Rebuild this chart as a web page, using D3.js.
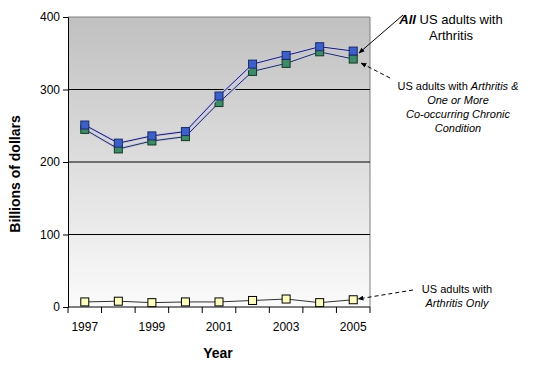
<!DOCTYPE html>
<html><head><meta charset="utf-8">
<script src="https://cdn.jsdelivr.net/npm/d3@7"></script>
<style>body{margin:0;background:#fff;font-family:Arial,"Liberation Sans",sans-serif;}</style>
</head><body><svg id="c" width="539" height="366"></svg>
<script>
const years = ["1997","1998","1999","2000","2001","2002","2003","2004","2005"];
const allArthritis = [251,226,236,242,291,335,347,359,353];
const coOccurring = [245,218,229,235,282,325,336,352,342];
const arthritisOnly = [7,8,6,7,7,9,11,6,10];
const yTicks = [0,100,200,300,400];
const xLabels = ["1997","1999","2001","2003","2005"];

const svg = d3.select("#c");
const L=68,R=370,T=17,B=307;
const x = d3.scaleBand().domain(years).range([L,R]);
const y = d3.scaleLinear().domain([0,400]).range([B,T]);

const defs = svg.append("defs");
const g = defs.append("linearGradient").attr("id","bg").attr("x1",0).attr("y1",0).attr("x2",0).attr("y2",1);
g.append("stop").attr("offset","0%").attr("stop-color","#c0c0c0");
g.append("stop").attr("offset","100%").attr("stop-color","#fbfbfb");
svg.append("rect").attr("x",L).attr("y",T).attr("width",R-L).attr("height",B-T).attr("fill","url(#bg)");
svg.append("path").attr("d",`M${L},${T}H${R}V${B}`).attr("fill","none").attr("stroke","#808080");

// gridlines
svg.selectAll(".grid").data(yTicks.filter(d=>d>0&&d<400)).enter().append("line")
 .attr("x1",L).attr("x2",R).attr("y1",d=>y(d)).attr("y2",d=>y(d)).attr("stroke","#000").attr("stroke-width",1);

// axes
const ya = svg.append("g").attr("transform",`translate(${L},0)`).call(d3.axisLeft(y).tickValues(yTicks).tickSize(5).tickPadding(3));
ya.select(".domain").attr("stroke","#000");
ya.selectAll("text").attr("font-size",12).attr("font-family","Arial,'Liberation Sans',sans-serif").attr("fill","#000");
const xa = svg.append("g").attr("transform",`translate(0,${B})`);
xa.append("line").attr("x1",L).attr("x2",R).attr("y1",0).attr("y2",0).attr("stroke","#000");
const bounds = years.map(d=>x(d)).concat([R]);
xa.selectAll(".tk").data(bounds).enter().append("line").attr("x1",d=>d).attr("x2",d=>d).attr("y1",0).attr("y2",6).attr("stroke","#000");
xa.selectAll(".lb").data(xLabels).enter().append("text").attr("x",d=>x(d)+x.bandwidth()/2).attr("y",24)
 .attr("text-anchor","middle").attr("font-size",12).text(d=>d);

// lines
const line = d3.line().x((d,i)=>x(years[i])+x.bandwidth()/2).y(d=>y(d));
function series(data, halo, stroke, fill, border){
  svg.append("path").attr("d",line(data)).attr("fill","none").attr("stroke",halo).attr("stroke-width",3);
  svg.append("path").attr("d",line(data)).attr("fill","none").attr("stroke",stroke).attr("stroke-width",1);
  svg.append("g").selectAll("rect").data(data).enter().append("rect")
   .attr("x",(d,i)=>x(years[i])+x.bandwidth()/2-4).attr("y",d=>y(d)-4).attr("width",8).attr("height",8)
   .attr("fill",fill).attr("stroke",border).attr("stroke-width",1);
}
series(coOccurring,"#c8c8ec","#1f2f3f","#3e8a6a","#123a22");
series(allArthritis,"#c8c8ec","#1a1a5a","#3d5fc8","#1a2a6a");
series(arthritisOnly,"none","#333","#ffffc0","#000");

// axis titles
svg.append("text").attr("transform","translate(20,174) rotate(-90)").attr("text-anchor","middle")
 .attr("font-size",14).attr("font-weight","bold").text("Billions of dollars");
svg.append("text").attr("x",218).attr("y",358).attr("text-anchor","middle")
 .attr("font-size",14).attr("font-weight","bold").text("Year");

// annotations
defs.append("marker").attr("id","ah").attr("viewBox","0 0 10 10").attr("refX",9).attr("refY",5)
 .attr("markerWidth",6).attr("markerHeight",6).attr("orient","auto").append("path").attr("d","M0,1L10,5L0,9z").attr("fill","#000");
svg.append("line").attr("x1",403).attr("y1",15).attr("x2",359).attr("y2",53).attr("stroke","#000").attr("marker-end","url(#ah)");
svg.append("line").attr("x1",390).attr("y1",78).attr("x2",361).attr("y2",63).attr("stroke","#000").attr("stroke-dasharray","4,3").attr("marker-end","url(#ah)");
svg.append("line").attr("x1",413).attr("y1",290).attr("x2",358).attr("y2",299).attr("stroke","#000").attr("stroke-dasharray","4,3").attr("marker-end","url(#ah)");

const t1 = svg.append("text").attr("x",451).attr("y",24).attr("text-anchor","middle").attr("font-size",13);
t1.append("tspan").attr("font-weight","bold").attr("font-style","italic").text("All");
t1.append("tspan").text(" US adults with");
svg.append("text").attr("x",451).attr("y",40).attr("text-anchor","middle").attr("font-size",13).text("Arthritis");

const t2 = svg.append("text").attr("x",458).attr("y",90).attr("text-anchor","middle").attr("font-size",11);
t2.append("tspan").text("US adults with ");
t2.append("tspan").attr("font-style","italic").text("Arthritis  &");
[["One or More",104],["Co-occurring Chronic",118],["Condition",132]].forEach(([s,yy])=>
 svg.append("text").attr("x",458).attr("y",yy).attr("text-anchor","middle").attr("font-size",11).attr("font-style","italic").text(s));

svg.append("text").attr("x",457).attr("y",293).attr("text-anchor","middle").attr("font-size",11).text("US adults with");
svg.append("text").attr("x",457).attr("y",307).attr("text-anchor","middle").attr("font-size",11).attr("font-style","italic").text("Arthritis Only");
</script></body></html>
